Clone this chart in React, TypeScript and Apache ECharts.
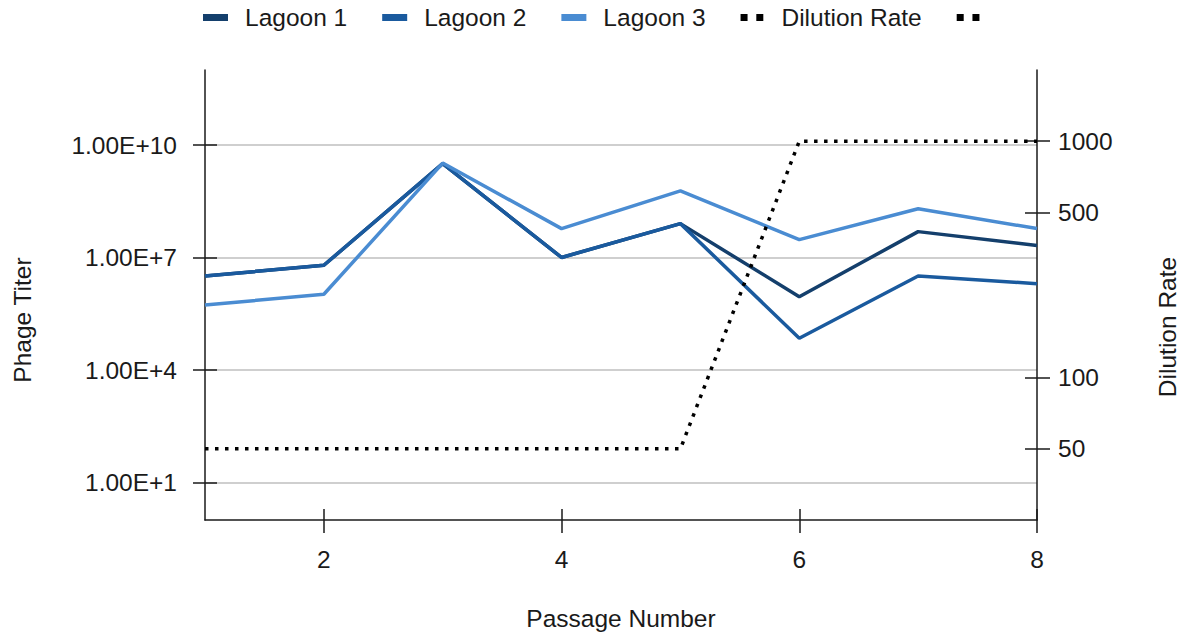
import React, { useEffect, useRef } from "react";
import * as echarts from "echarts";

// Passage numbers on the x axis
const passages = [1, 2, 3, 4, 5, 6, 7, 8];

// Phage titer per lagoon (pfu/mL)
const lagoon1 = [3.2e6, 6.2e6, 3.2e9, 1e7, 8e7, 9e5, 4.9e7, 2.1e7];
const lagoon2 = [3.2e6, 6.2e6, 3.2e9, 1e7, 8e7, 7e4, 3.2e6, 2e6];
const lagoon3 = [5.4e5, 1.05e6, 3.3e9, 5.9e7, 6e8, 3e7, 2e8, 5.9e7];

// Dilution rate applied at each passage
const dilution = [50, 50, 50, 50, 50, 1000, 1000, 1000];

// Tick values
const xTicks = [2, 4, 6, 8];
const titerTicks = [1e1, 1e4, 1e7, 1e10];
const dilutionTicks = [50, 100, 500, 1000];

const FONT = "'Liberation Sans', Arial, Helvetica, sans-serif";
const FS = 24.5;

const lg = (v: number) => Math.log10(v);
const pairs = (vals: number[]) => passages.map((p, i) => [p, lg(vals[i])]);

export default function App() {
  const ref = useRef<HTMLDivElement>(null);

  useEffect(() => {
    document.body.style.margin = "0";
    const chart = echarts.init(ref.current!, undefined, { renderer: "svg" });

    const titerMin = 0;
    const titerMax = 12;
    const dilMin = lg(25);
    const dilMax = lg(2000);
    const titerTickLogs = titerTicks.map(lg);
    const dilTickLogs = dilutionTicks.map(lg);

    const axisLine = { show: true, lineStyle: { color: "#1a1a1a", width: 1.5 } };
    const tickStyle = { color: "#1a1a1a", width: 1.5 };
    const labelStyle = { color: "#1a1a1a", fontFamily: FONT, fontSize: FS };

    const gridBox = {
      left: 205,
      right: 145,
      top: 70,
      bottom: 115,
      containLabel: false,
      outerBoundsMode: "none",
    };

    chart.setOption({
      animation: false,
      backgroundColor: "#ffffff",
      textStyle: { fontFamily: FONT },
      legend: {
        top: 0,
        left: 198,
        itemWidth: 25,
        itemHeight: 7,
        itemGap: 35,
        textStyle: { fontFamily: FONT, fontSize: FS, color: "#1a1a1a", padding: [0, 0, 0, 12] },
        data: [
          { name: "Lagoon 1", icon: "rect" },
          { name: "Lagoon 2", icon: "rect" },
          { name: "Lagoon 3", icon: "rect" },
          { name: "Dilution Rate", icon: "path://M0,0h8v8h-8z M18,0h8v8h-8z" },
          { name: " ", icon: "path://M0,0h8v8h-8z M18,0h8v8h-8z" },
        ],
      },
      grid: [{ ...gridBox }, { ...gridBox }],
      xAxis: [
        {
          type: "value",
          gridIndex: 0,
          min: 1,
          max: 8,
          name: "Passage Number",
          nameLocation: "middle",
          nameGap: 86,
          nameTextStyle: { fontFamily: FONT, fontSize: FS, color: "#1a1a1a" },
          axisLine,
          axisTick: { show: true, length: 13, lineStyle: tickStyle, customValues: xTicks },
          axisLabel: { ...labelStyle, margin: 27, customValues: xTicks },
          splitLine: { show: false },
        },
        {
          type: "value",
          gridIndex: 1,
          min: 1,
          max: 8,
          axisLine: { show: false },
          axisTick: { show: true, inside: true, length: 11, lineStyle: tickStyle, customValues: xTicks },
          axisLabel: { show: false },
          splitLine: { show: false },
        },
      ],
      yAxis: [
        {
          type: "value",
          gridIndex: 0,
          position: "left",
          min: titerMin,
          max: titerMax,
          name: "Phage Titer",
          nameLocation: "middle",
          nameRotate: 90,
          nameGap: 170,
          nameTextStyle: { fontFamily: FONT, fontSize: FS, color: "#1a1a1a", padding: [0, 50, 0, 0] },
          axisLine,
          axisTick: { show: true, length: 12, lineStyle: tickStyle, customValues: titerTickLogs },
          axisLabel: {
            ...labelStyle,
            margin: 28,
            customValues: titerTickLogs,
            formatter: (v: number) => "1.00E+" + Math.round(v),
          },
          splitLine: { show: true, lineStyle: { color: "#cfcfcf", width: 2 } },
        },
        {
          type: "value",
          gridIndex: 0,
          position: "right",
          min: dilMin,
          max: dilMax,
          name: "Dilution Rate",
          nameLocation: "middle",
          nameRotate: 90,
          nameGap: 118,
          nameTextStyle: { fontFamily: FONT, fontSize: FS, color: "#1a1a1a", padding: [0, 64, 0, 0] },
          axisLine,
          axisTick: { show: true, length: 13, lineStyle: tickStyle, customValues: dilTickLogs },
          axisLabel: {
            ...labelStyle,
            margin: 21,
            customValues: dilTickLogs,
            formatter: (v: number) => String(Math.round(Math.pow(10, v))),
          },
          splitLine: { show: false },
        },
        {
          type: "value",
          gridIndex: 1,
          position: "left",
          min: titerMin,
          max: titerMax,
          axisLine: { show: false },
          axisTick: { show: true, inside: true, length: 12, lineStyle: tickStyle, customValues: titerTickLogs },
          axisLabel: { show: false },
          splitLine: { show: false },
        },
        {
          type: "value",
          gridIndex: 1,
          position: "right",
          min: dilMin,
          max: dilMax,
          axisLine: { show: false },
          axisTick: { show: true, inside: true, length: 12, lineStyle: tickStyle, customValues: dilTickLogs },
          axisLabel: { show: false },
          splitLine: { show: false },
        },
      ],
      series: [
        {
          name: "Lagoon 1",
          type: "line",
          xAxisIndex: 0,
          yAxisIndex: 0,
          data: pairs(lagoon1),
          showSymbol: false,
          symbol: "none",
          color: "#143f6c",
          lineStyle: { width: 3.5, color: "#143f6c" },
        },
        {
          name: "Lagoon 2",
          type: "line",
          xAxisIndex: 0,
          yAxisIndex: 0,
          data: pairs(lagoon2),
          showSymbol: false,
          symbol: "none",
          color: "#1a5a9e",
          lineStyle: { width: 3.5, color: "#1a5a9e" },
        },
        {
          name: "Lagoon 3",
          type: "line",
          xAxisIndex: 0,
          yAxisIndex: 0,
          data: pairs(lagoon3),
          showSymbol: false,
          symbol: "none",
          color: "#4a8cd2",
          lineStyle: { width: 3.5, color: "#4a8cd2" },
        },
        {
          name: "Dilution Rate",
          type: "line",
          xAxisIndex: 0,
          yAxisIndex: 1,
          data: pairs(dilution),
          showSymbol: false,
          symbol: "none",
          color: "#000000",
          lineStyle: { width: 3.5, color: "#000000", type: [3.5, 6.5], cap: "butt" },
        },
        {
          name: " ",
          type: "line",
          xAxisIndex: 0,
          yAxisIndex: 1,
          data: [],
          showSymbol: false,
          symbol: "none",
          color: "#000000",
          lineStyle: { width: 3.5, color: "#000000", type: [3.5, 6.5] },
        },
      ],
    });

    return () => chart.dispose();
  }, []);

  return <div ref={ref} style={{ width: 1182, height: 635 }} />;
}
